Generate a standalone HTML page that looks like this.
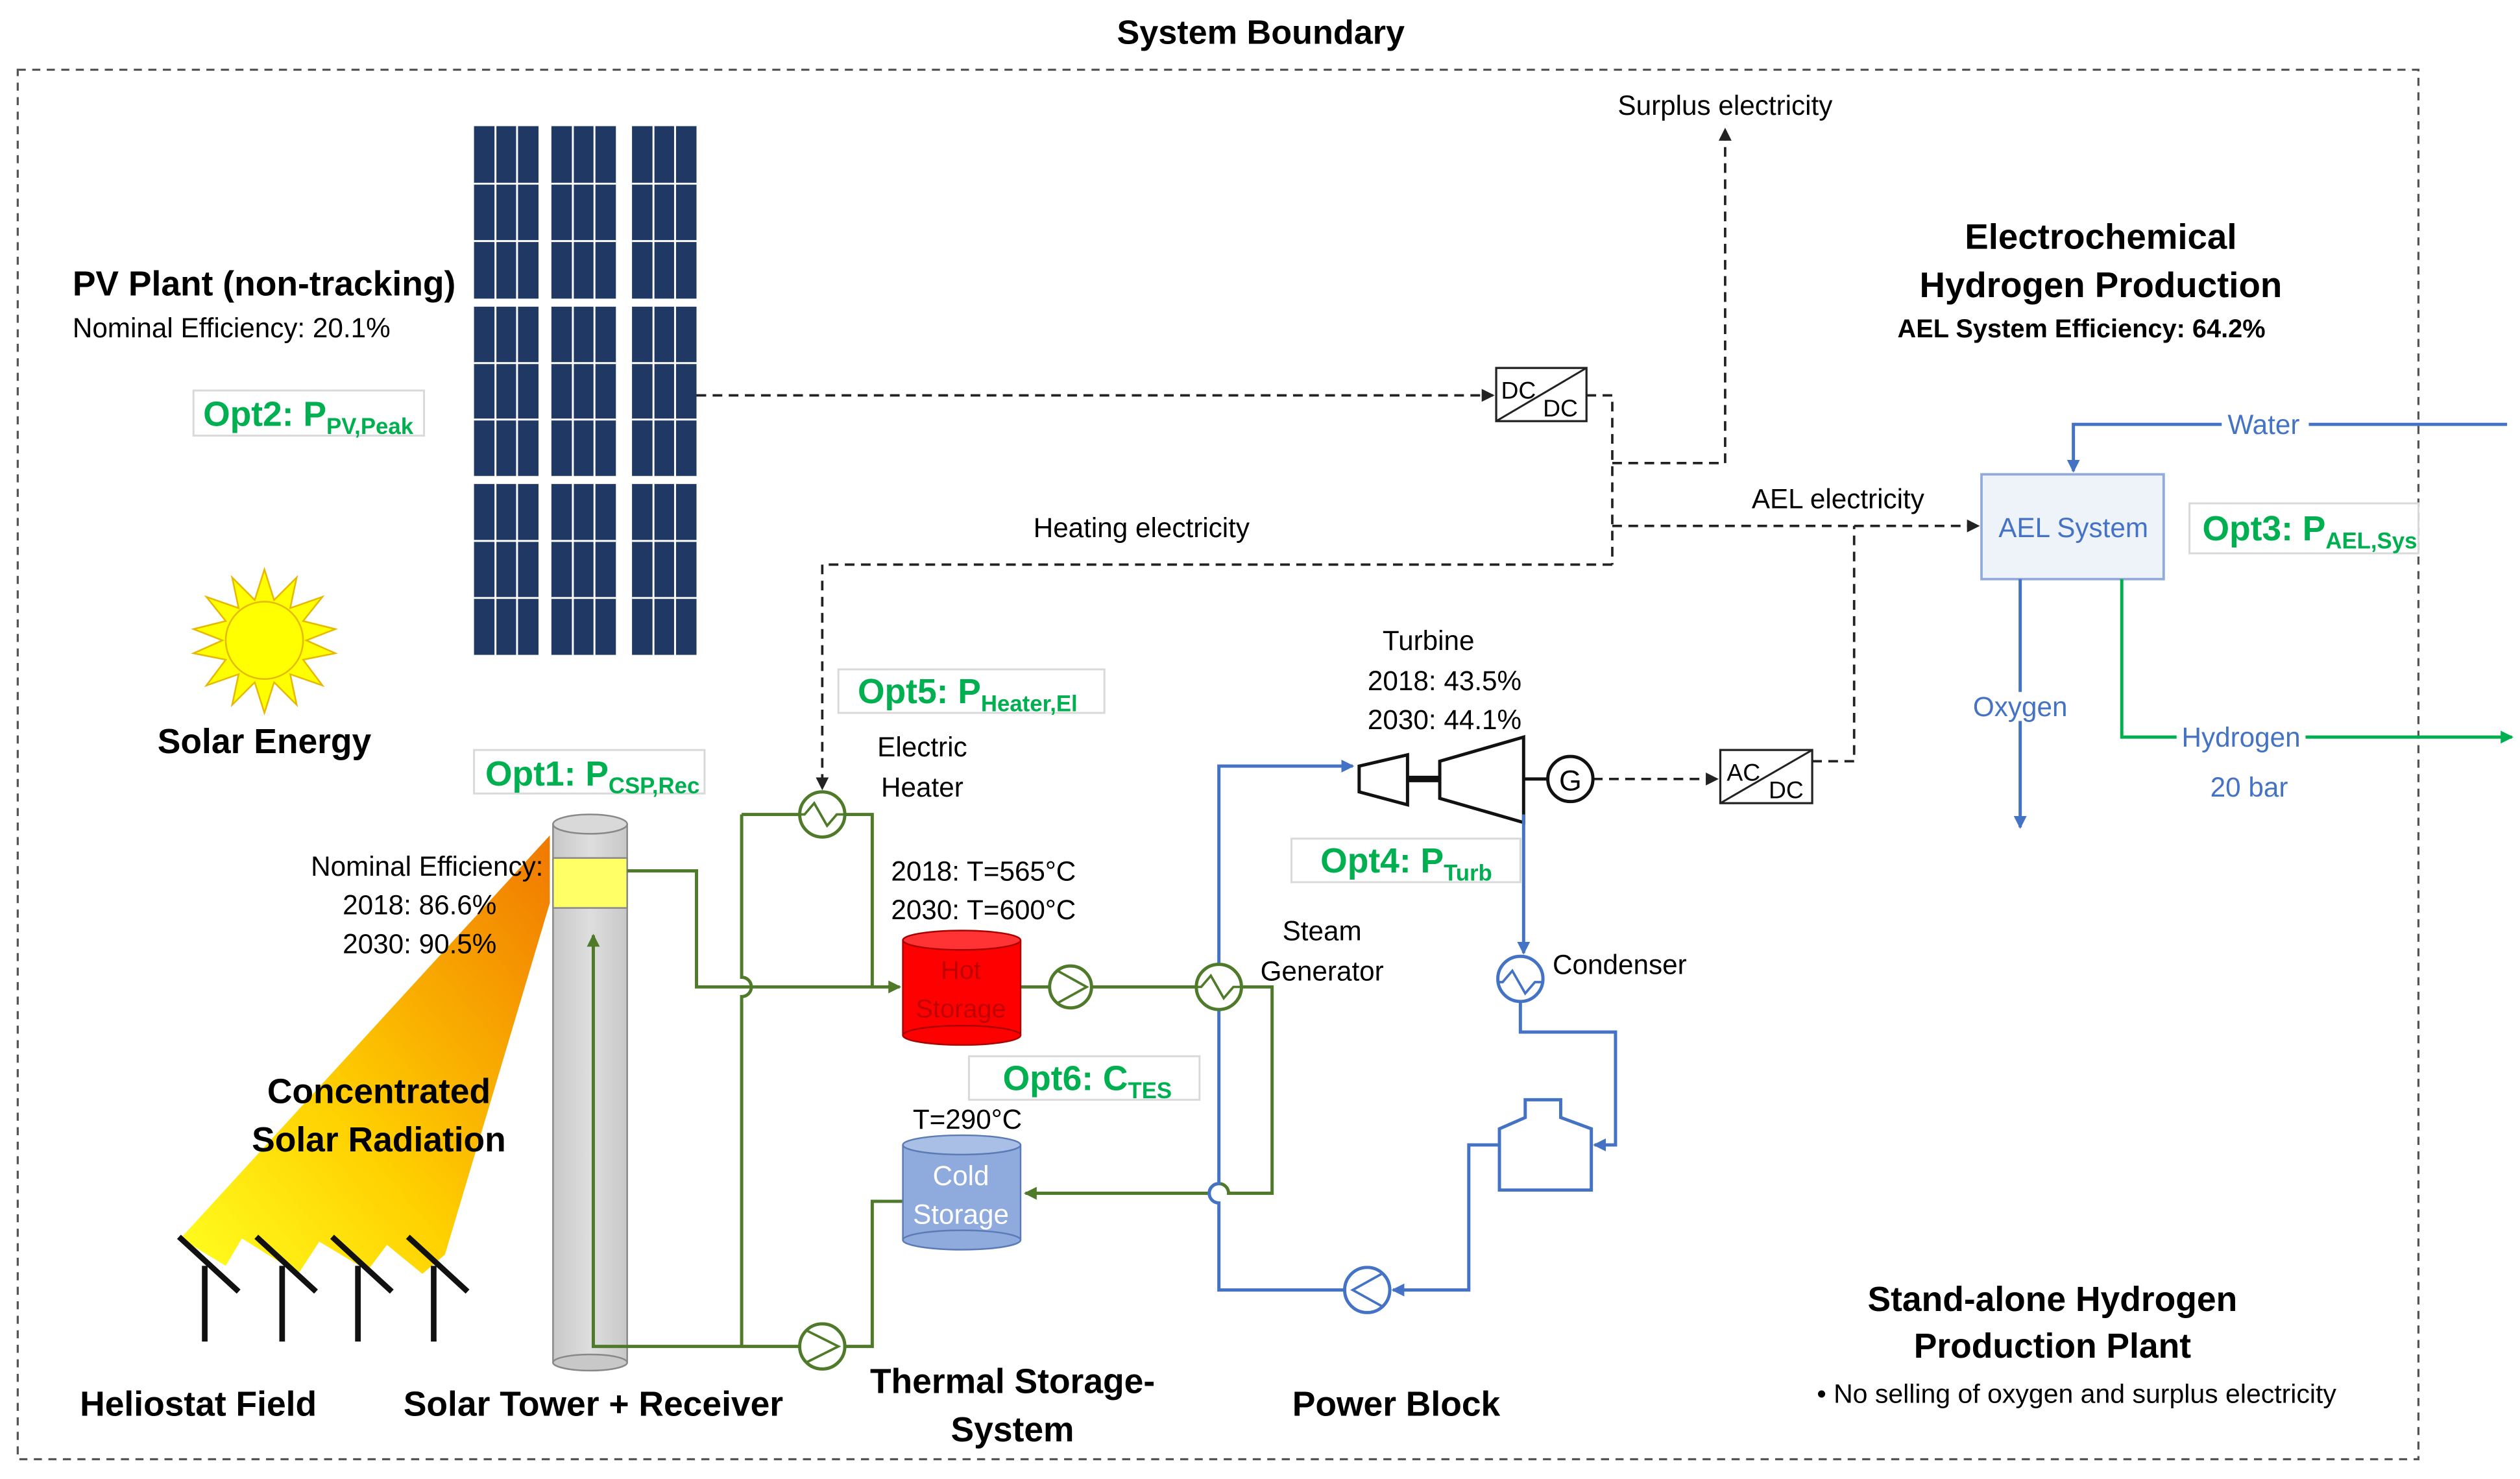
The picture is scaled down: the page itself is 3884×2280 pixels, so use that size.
<!DOCTYPE html>
<html><head><meta charset="utf-8"><style>
html,body{margin:0;padding:0;background:#fff;}
svg{display:block;}
text{font-family:"Liberation Sans",sans-serif;}
.b{font-weight:bold;}
.opt{fill:#00b050;font-weight:bold;font-size:21.5px;}
.ob{fill:#fff;stroke:#d9d9d9;stroke-width:1.2;}
.d{fill:none;stroke:#222;stroke-width:1.5;stroke-dasharray:6,4;}
.g{fill:none;stroke:#4e7a2a;stroke-width:2;}
.bl{fill:none;stroke:#4472c4;stroke-width:2;}
.pl{stroke:#fff;stroke-width:1.2;}
</style></head><body>
<svg width="3884" height="2280" viewBox="0 0 1563 917" xmlns="http://www.w3.org/2000/svg">
<defs>
<marker id="ak" markerWidth="8" markerHeight="8" refX="7" refY="4" orient="auto" markerUnits="userSpaceOnUse"><path d="M0,0 L8,4 L0,8z" fill="#222"/></marker>
<marker id="ag" markerWidth="8" markerHeight="8" refX="7" refY="4" orient="auto" markerUnits="userSpaceOnUse"><path d="M0,0 L8,4 L0,8z" fill="#4e7a2a"/></marker>
<marker id="ab" markerWidth="8" markerHeight="8" refX="7" refY="4" orient="auto" markerUnits="userSpaceOnUse"><path d="M0,0 L8,4 L0,8z" fill="#4472c4"/></marker>
<marker id="ah" markerWidth="8" markerHeight="8" refX="7" refY="4" orient="auto" markerUnits="userSpaceOnUse"><path d="M0,0 L8,4 L0,8z" fill="#00b050"/></marker>
<linearGradient id="cone" x1="1" y1="0" x2="0" y2="1"><stop offset="0" stop-color="#f07800"/><stop offset="0.6" stop-color="#ffd000"/><stop offset="1" stop-color="#ffff20"/></linearGradient>
<linearGradient id="tow" x1="0" x2="1"><stop offset="0" stop-color="#c8c8c8"/><stop offset="0.5" stop-color="#dedede"/><stop offset="1" stop-color="#c8c8c8"/></linearGradient>
</defs>

<text x="782" y="27" text-anchor="middle" class="b" font-size="21">System Boundary</text>
<rect x="11" y="43" width="1489" height="862" fill="none" stroke="#555" stroke-width="1.3" stroke-dasharray="5,4"/>

<!-- PV panels -->
<g fill="#1f3864">
<rect x="294" y="78" width="40" height="107"/><rect x="342" y="78" width="40" height="107"/><rect x="392" y="78" width="40" height="107"/>
<rect x="294" y="190" width="40" height="105"/><rect x="342" y="190" width="40" height="105"/><rect x="392" y="190" width="40" height="105"/>
<rect x="294" y="300" width="40" height="106"/><rect x="342" y="300" width="40" height="106"/><rect x="392" y="300" width="40" height="106"/>
</g>
<g class="pl">
<path d="M307.3,78V406M320.7,78V406M355.3,78V406M368.7,78V406M405.3,78V406M418.7,78V406"/>
<path d="M294,113.7H334M294,149.3H334M342,113.7H382M342,149.3H382M392,113.7H432M392,149.3H432"/>
<path d="M294,225H334M294,260H334M342,225H382M342,260H382M392,225H432M392,260H432"/>
<path d="M294,335.3H334M294,370.7H334M342,335.3H382M342,370.7H382M392,335.3H432M392,370.7H432"/>
</g>
<text x="45" y="183" class="b" font-size="21.5">PV Plant (non-tracking)</text>
<text x="45" y="209" font-size="17">Nominal Efficiency: 20.1%</text>
<rect x="120" y="242" width="143" height="28" class="ob"/>
<text x="126" y="264" class="opt">Opt2: P<tspan font-size="14" dy="5">PV,Peak</tspan></text>

<!-- sun -->
<polygon points="164,353 170,372 184,358 180,377 200,370 188,385 208,390 190,397 208,405 188,409 200,425 180,418 184,437 170,423 164,442 158,423 144,437 148,418 128,425 140,409 120,405 138,397 120,390 140,385 128,370 148,377 144,358 158,372" fill="#ffff00" stroke="#e6b800" stroke-width="1"/>
<circle cx="164" cy="397" r="24" fill="#ffff00" stroke="#e6b800" stroke-width="1"/>
<text x="164" y="467" text-anchor="middle" class="b" font-size="21.5">Solar Energy</text>

<!-- electricity dashed -->
<path d="M432,245H926" class="d" marker-end="url(#ak)"/>
<rect x="928" y="228" width="56" height="33" fill="#fff" stroke="#222" stroke-width="1.3"/>
<line x1="928" y1="261" x2="984" y2="228" stroke="#222" stroke-width="1.2"/>
<text x="931" y="247" font-size="15">DC</text><text x="957" y="258" font-size="15">DC</text>
<path d="M984,245H1000V350" class="d"/>
<path d="M1000,287H1070V80" class="d" marker-end="url(#ak)"/>
<text x="1070" y="71" text-anchor="middle" font-size="17">Surplus electricity</text>
<path d="M1000,326H1227" class="d" marker-end="url(#ak)"/>
<text x="1140" y="315" text-anchor="middle" font-size="17">AEL electricity</text>
<path d="M1000,350H510V489" class="d" marker-end="url(#ak)"/>
<text x="708" y="333" text-anchor="middle" font-size="17">Heating electricity</text>
<path d="M988,483H1065" class="d" marker-end="url(#ak)"/>
<rect x="1067" y="465" width="57" height="33" fill="#fff" stroke="#222" stroke-width="1.3"/>
<line x1="1067" y1="498" x2="1124" y2="465" stroke="#222" stroke-width="1.2"/>
<text x="1071" y="484" font-size="15">AC</text><text x="1097" y="495" font-size="15">DC</text>
<path d="M1124,472H1150V326" class="d"/>

<!-- AEL -->
<text x="1303" y="154" text-anchor="middle" class="b" font-size="22">Electrochemical</text>
<text x="1303" y="184" text-anchor="middle" class="b" font-size="22">Hydrogen Production</text>
<text x="1291" y="209" text-anchor="middle" font-size="16" font-weight="bold">AEL System Efficiency: 64.2%</text>
<path d="M1555,263H1286V292" class="bl" marker-end="url(#ab)"/>
<rect x="1378" y="254" width="54" height="18" fill="#fff"/>
<text x="1404" y="269" text-anchor="middle" font-size="17" fill="#4472c4">Water</text>
<rect x="1229" y="294" width="113" height="65" fill="#eef3fa" stroke="#8faadc" stroke-width="1.5"/>
<text x="1286" y="333" text-anchor="middle" font-size="17" fill="#4472c4">AEL System</text>
<rect x="1358" y="312" width="142" height="31" class="ob"/>
<text x="1366" y="335" class="opt">Opt3: P<tspan font-size="14" dy="5">AEL,Sys</tspan></text>
<path d="M1253,359V513" class="bl" marker-end="url(#ab)"/>
<rect x="1218" y="429" width="70" height="18" fill="#fff"/>
<text x="1253" y="444" text-anchor="middle" font-size="17" fill="#4472c4">Oxygen</text>
<path d="M1316,359V457H1558" fill="none" stroke="#00b050" stroke-width="2" marker-end="url(#ah)"/>
<rect x="1350" y="448" width="80" height="18" fill="#fff"/>
<text x="1390" y="463" text-anchor="middle" font-size="17" fill="#4472c4">Hydrogen</text>
<text x="1395" y="494" text-anchor="middle" font-size="17" fill="#4472c4">20 bar</text>

<!-- cone & heliostats -->
<polygon points="341,518 341,560 276,778 262,790 240,772 228,788 198,770 185,790 150,768 140,785 112,768" fill="url(#cone)"/>
<g stroke="#111" stroke-width="3.5">
<line x1="127" y1="785" x2="127" y2="832"/><line x1="111" y1="767" x2="148" y2="801"/>
<line x1="175" y1="785" x2="175" y2="832"/><line x1="159" y1="767" x2="196" y2="801"/>
<line x1="222" y1="785" x2="222" y2="832"/><line x1="206" y1="767" x2="243" y2="801"/>
<line x1="269" y1="785" x2="269" y2="832"/><line x1="253" y1="767" x2="290" y2="801"/>
</g>
<text x="235" y="684" text-anchor="middle" class="b" font-size="21.5">Concentrated</text>
<text x="235" y="714" text-anchor="middle" class="b" font-size="21.5">Solar Radiation</text>

<!-- tower -->
<rect x="343" y="511" width="46" height="334" fill="url(#tow)" stroke="#888" stroke-width="1"/>
<ellipse cx="366" cy="845" rx="23" ry="5" fill="#c8c8c8" stroke="#888"/>
<ellipse cx="366" cy="511" rx="23" ry="6" fill="#d9d9d9" stroke="#888"/>
<rect x="343" y="532" width="46" height="31" fill="#ffff66" stroke="#888" stroke-width="1"/>
<text x="337" y="543" text-anchor="end" font-size="17">Nominal Efficiency:</text>
<text x="308" y="567" text-anchor="end" font-size="17">2018: 86.6%</text>
<text x="308" y="591" text-anchor="end" font-size="17">2030: 90.5%</text>
<rect x="294" y="465" width="143" height="27" class="ob"/>
<text x="301" y="487" class="opt">Opt1: P<tspan font-size="14" dy="5">CSP,Rec</tspan></text>

<!-- green loop -->
<path d="M389,540H432V612H558" class="g" marker-end="url(#ag)"/>
<path d="M460,505V606 A6,6 0 0 1 460,618 V835" class="g"/>
<path d="M460,505H496" class="g"/>
<path d="M524,505H541V612" class="g"/>
<path d="M633,612H651" class="g"/>
<path d="M677,612H742" class="g"/>
<path d="M770,612H789V740H762 A6,6 0 0 0 750,740 H636" class="g" marker-end="url(#ag)"/>
<path d="M560,745H541V835H524" class="g"/>
<path d="M496,835H368V580" class="g" marker-end="url(#ag)"/>
<circle cx="510" cy="505" r="14" fill="#fff" stroke="#4e7a2a" stroke-width="2"/>
<path d="M496,505 H499 L505,498 L513,512 L519,505 H524" fill="none" stroke="#4e7a2a" stroke-width="1.5"/>
<circle cx="664" cy="612" r="13" fill="#fff" stroke="#4e7a2a" stroke-width="2"/>
<path d="M656,602 L674,612 L656,622" fill="none" stroke="#4e7a2a" stroke-width="1.5"/>
<circle cx="510" cy="835" r="14" fill="#fff" stroke="#4e7a2a" stroke-width="2"/>
<path d="M500,825 L520,835 L500,845" fill="none" stroke="#4e7a2a" stroke-width="1.5"/>

<!-- storages -->
<rect x="560" y="583" width="73" height="59" fill="#ff0000"/>
<ellipse cx="596.5" cy="642" rx="36.5" ry="6" fill="#ff0000" stroke="#a00"/>
<ellipse cx="596.5" cy="583" rx="36.5" ry="6" fill="#ff3333" stroke="#a00"/>
<line x1="560" y1="583" x2="560" y2="642" stroke="#a00"/><line x1="633" y1="583" x2="633" y2="642" stroke="#a00"/>
<text x="596" y="607" text-anchor="middle" font-size="16" fill="#c00000">Hot</text>
<text x="596" y="631" text-anchor="middle" font-size="16" fill="#c00000">Storage</text>
<rect x="560" y="710" width="73" height="59" fill="#8faadc"/>
<ellipse cx="596.5" cy="769" rx="36.5" ry="6" fill="#8faadc" stroke="#5a7bb5"/>
<ellipse cx="596.5" cy="710" rx="36.5" ry="6" fill="#a9bfe6" stroke="#5a7bb5"/>
<line x1="560" y1="710" x2="560" y2="769" stroke="#5a7bb5"/><line x1="633" y1="710" x2="633" y2="769" stroke="#5a7bb5"/>
<text x="596" y="735" text-anchor="middle" font-size="17" fill="#fff">Cold</text>
<text x="596" y="759" text-anchor="middle" font-size="17" fill="#fff">Storage</text>
<text x="572" y="469" text-anchor="middle" font-size="17">Electric</text>
<text x="572" y="494" text-anchor="middle" font-size="17">Heater</text>
<text x="610" y="546" text-anchor="middle" font-size="17">2018: T=565°C</text>
<text x="610" y="570" text-anchor="middle" font-size="17">2030: T=600°C</text>
<text x="600" y="700" text-anchor="middle" font-size="17">T=290°C</text>
<rect x="520" y="415" width="165" height="27" class="ob"/>
<text x="532" y="436" class="opt">Opt5: P<tspan font-size="14" dy="5">Heater,El</tspan></text>
<rect x="601" y="655" width="143" height="27" class="ob"/>
<text x="622" y="676" class="opt">Opt6: C<tspan font-size="14" dy="5">TES</tspan></text>

<!-- power block blue -->
<path d="M834,800H756V746 A6,6 0 0 1 756,734 V475H839" class="bl" marker-end="url(#ab)"/>
<circle cx="756" cy="612" r="14" fill="#fff" stroke="#4e7a2a" stroke-width="2"/>
<path d="M742,612 H745 L751,605 L759,619 L765,612 H770" fill="none" stroke="#4e7a2a" stroke-width="1.5"/>
<text x="820" y="583" text-anchor="middle" font-size="17">Steam</text>
<text x="820" y="608" text-anchor="middle" font-size="17">Generator</text>
<polygon points="843,475 873,468 873,499 843,491" fill="#fff" stroke="#111" stroke-width="2"/>
<line x1="873" y1="483" x2="893" y2="483" stroke="#111" stroke-width="4"/>
<polygon points="893,472 945,457 945,510 893,495" fill="#fff" stroke="#111" stroke-width="2"/>
<line x1="945" y1="483" x2="960" y2="483" stroke="#111" stroke-width="2"/>
<circle cx="974" cy="483" r="14" fill="#fff" stroke="#111" stroke-width="2"/>
<text x="974" y="490" text-anchor="middle" font-size="18">G</text>
<text x="886" y="403" text-anchor="middle" font-size="17">Turbine</text>
<text x="896" y="428" text-anchor="middle" font-size="17">2018: 43.5%</text>
<text x="896" y="452" text-anchor="middle" font-size="17">2030: 44.1%</text>
<rect x="801" y="520" width="142" height="27" class="ob"/>
<text x="819" y="541" class="opt">Opt4: P<tspan font-size="14" dy="5">Turb</tspan></text>
<path d="M945,505V591" class="bl" marker-end="url(#ab)"/>
<circle cx="943" cy="607" r="14" fill="#fff" stroke="#4472c4" stroke-width="2"/>
<path d="M929,609 H932 L938,602 L946,616 L952,609 H957" fill="none" stroke="#4472c4" stroke-width="1.5"/>
<text x="963" y="604" font-size="17">Condenser</text>
<path d="M943,621V640H1002V710H989" class="bl" marker-end="url(#ab)"/>
<polygon points="930,738 930,700 946,693 946,682 968,682 968,693 987,700 987,738" fill="#fff" stroke="#4472c4" stroke-width="2"/>
<path d="M930,710H911V800H864" class="bl" marker-end="url(#ab)"/>
<circle cx="848" cy="800" r="14" fill="#fff" stroke="#4472c4" stroke-width="2"/>
<path d="M857,790 L839,800 L857,810" fill="none" stroke="#4472c4" stroke-width="1.5"/>

<!-- bottom labels -->
<text x="123" y="878" text-anchor="middle" class="b" font-size="21.5">Heliostat Field</text>
<text x="368" y="878" text-anchor="middle" class="b" font-size="21.5">Solar Tower + Receiver</text>
<text x="628" y="864" text-anchor="middle" class="b" font-size="21.5">Thermal Storage-</text>
<text x="628" y="894" text-anchor="middle" class="b" font-size="21.5">System</text>
<text x="866" y="878" text-anchor="middle" class="b" font-size="21.5">Power Block</text>
<text x="1273" y="813" text-anchor="middle" class="b" font-size="21.5">Stand-alone Hydrogen</text>
<text x="1273" y="842" text-anchor="middle" class="b" font-size="21.5">Production Plant</text>
<text x="1288" y="870" text-anchor="middle" font-size="16.5">• No selling of oxygen and surplus electricity</text>
</svg>
</body></html>
